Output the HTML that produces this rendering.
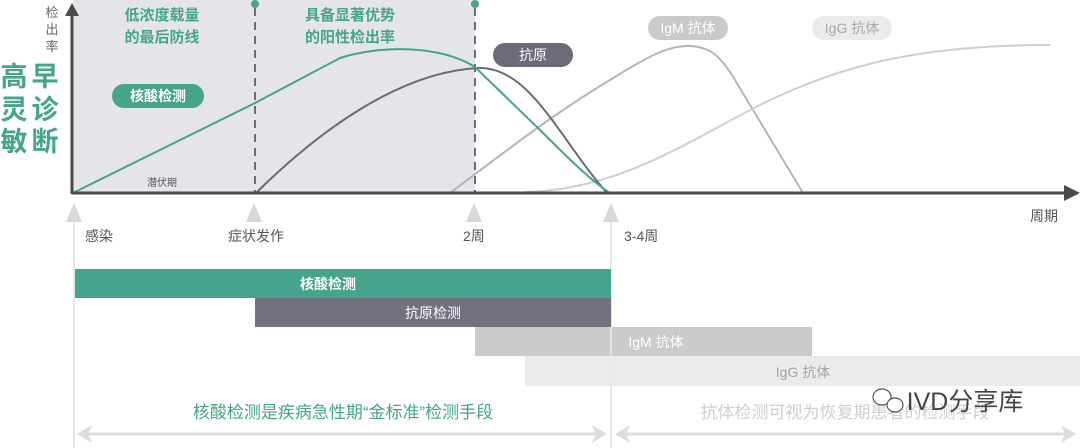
<!DOCTYPE html>
<html><head><meta charset="utf-8"><style>
html,body{margin:0;padding:0;background:#fff;}
svg{display:block;font-family:"Liberation Sans","Noto Sans CJK SC",sans-serif;}
</style></head><body>
<svg width="1080" height="448" viewBox="0 0 1080 448">
<rect x="73" y="0" width="402" height="193" fill="#e5e5e9"/>
<!-- y axis -->
<line x1="72" y1="194" x2="72" y2="12" stroke="#4a4a4a" stroke-width="3"/>
<polygon points="72,3 65,16 79,16" fill="#4a4a4a"/>
<g font-size="13" fill="#666" text-anchor="middle"><text x="52" y="17">检</text><text x="52" y="34">出</text><text x="52" y="51">率</text></g>
<g font-size="27" font-weight="bold" fill="#45a58c" text-anchor="middle">
<text x="14" y="86">高</text><text x="45" y="86">早</text>
<text x="14" y="119">灵</text><text x="45" y="119">诊</text>
<text x="14" y="151">敏</text><text x="45" y="151">断</text></g>
<!-- dashed lines -->
<line x1="255" y1="8" x2="255" y2="193" stroke="#6a6a78" stroke-width="2" stroke-dasharray="8,6"/>
<line x1="475" y1="8" x2="475" y2="193" stroke="#6a6a78" stroke-width="2" stroke-dasharray="8,6"/>
<circle cx="255" cy="4" r="4" fill="#45a58c"/><circle cx="475" cy="4" r="4" fill="#45a58c"/>
<g font-size="15" font-weight="bold" fill="#45a58c" text-anchor="middle">
<text x="162" y="20">低浓度载量</text><text x="162" y="42">的最后防线</text>
<text x="350" y="20">具备显著优势</text><text x="350" y="42">的阳性检出率</text></g>
<text x="162" y="186" font-size="10" fill="#555" text-anchor="middle">潜伏期</text>
<!-- curves -->
<path d="M450,193 C520,140 560,110 610,80 C650,55 670,45 690,46 C710,47 720,55 735,80 L803,193" fill="none" stroke="#b5b5b5" stroke-width="2"/>
<path d="M525,192 C620,190 690,140 760,105 C840,65 920,45 1050,45" fill="none" stroke="#cfcfcf" stroke-width="2"/>
<path d="M257,192 C320,130 400,72 478,68 C530,66 560,140 607,193" fill="none" stroke="#6a6a78" stroke-width="2"/>
<path d="M75,192 L255,103 L340,58 C380,45 440,45 475,67 L540,130 C565,155 590,180 610,193" fill="none" stroke="#45a58c" stroke-width="2"/>
<!-- x axis -->
<line x1="72" y1="193" x2="1068" y2="193" stroke="#4a4a4a" stroke-width="3"/>
<polygon points="1080,193 1064,185 1064,201" fill="#4a4a4a"/>
<text x="1030" y="221" font-size="14" fill="#555">周期</text>
<!-- pills -->
<rect x="112" y="84" width="92" height="24" rx="12" fill="#45a58c"/>
<text x="158" y="101" font-size="14" font-weight="bold" fill="#fff" text-anchor="middle">核酸检测</text>
<rect x="493" y="43" width="80" height="24" rx="12" fill="#6b6b7a"/>
<text x="533" y="60" font-size="14" fill="#fff" text-anchor="middle">抗原</text>
<rect x="648" y="16" width="80" height="24" rx="12" fill="#cacaca"/>
<text x="688" y="33" font-size="14" fill="#fff" text-anchor="middle">IgM 抗体</text>
<rect x="812" y="16" width="80" height="24" rx="12" fill="#ebebeb"/>
<text x="852" y="33" font-size="14" fill="#a8a8a8" text-anchor="middle">IgG 抗体</text>
<!-- bottom verticals -->
<line x1="74" y1="220" x2="74" y2="448" stroke="#ddd" stroke-width="1.5"/>
<line x1="611" y1="220" x2="611" y2="448" stroke="#ddd" stroke-width="1.5"/>
<g fill="#d8d8d8">
<polygon points="74,203 66,222 82,222"/><polygon points="254,203 246,222 262,222"/>
<polygon points="474,203 466,222 482,222"/><polygon points="611,203 603,222 619,222"/></g>
<g font-size="14" fill="#555">
<text x="85" y="241">感染</text><text x="228" y="241">症状发作</text>
<text x="463" y="241">2周</text><text x="624" y="241">3-4周</text></g>
<!-- bars -->
<rect x="75" y="269" width="536" height="29" fill="#45a58c"/>
<text x="328" y="289" font-size="14" font-weight="bold" fill="#fff" text-anchor="middle">核酸检测</text>
<rect x="255" y="298" width="356" height="29" fill="#72727f"/>
<text x="433" y="318" font-size="14" fill="#fff" text-anchor="middle">抗原检测</text>
<rect x="475" y="327" width="337" height="29" fill="#cbcbcb"/>
<text x="656" y="347" font-size="14" fill="#fff" text-anchor="middle">IgM 抗体</text>
<rect x="525" y="356" width="555" height="30" fill="#ebebeb"/>
<text x="803" y="377" font-size="14" fill="#a5a5a5" text-anchor="middle">IgG 抗体</text>
<line x1="611" y1="327" x2="611" y2="386" stroke="#e8e8e8" stroke-width="1.5"/>
<!-- bottom texts -->
<text x="343" y="418" font-size="17" fill="#45a58c" text-anchor="middle">核酸检测是疾病急性期“金标准”检测手段</text>
<text x="845" y="418" font-size="17" fill="#cfcfcf" text-anchor="middle">抗体检测可视为恢复期患者的检测手段</text>
<text x="965" y="410" font-size="25" fill="#444" text-anchor="middle">IVD分享库</text>
<g fill="#fff" stroke="#555" stroke-width="1.2"><ellipse cx="882" cy="397" rx="9" ry="8"/><ellipse cx="895" cy="405" rx="8" ry="7"/></g>
<!-- double arrows -->
<g stroke="#ddd" stroke-width="3" fill="#ddd">
<line x1="86" y1="434" x2="598" y2="434"/>
<line x1="624" y1="434" x2="1066" y2="434"/></g>
<g fill="#ddd">
<polygon points="77,434 92,425 88,434 92,443"/><polygon points="607,434 592,425 596,434 592,443"/>
<polygon points="615,434 630,425 626,434 630,443"/><polygon points="1076,434 1061,425 1065,434 1061,443"/></g>
</svg>
</body></html>
